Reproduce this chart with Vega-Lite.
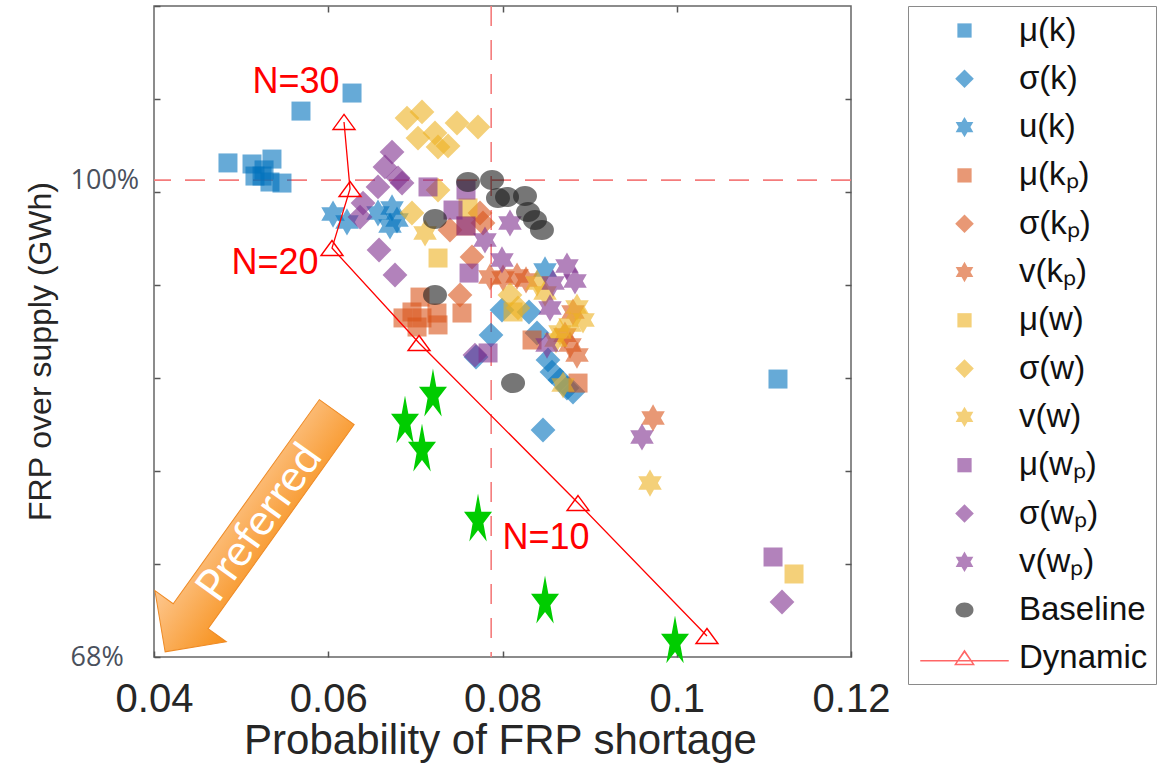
{
  "$schema": "https://vega.github.io/schema/vega-lite/v6.json",
  "width": 697,
  "height": 651,
  "autosize": {"type": "none"},
  "padding": {"left": 154, "top": 6, "right": 312, "bottom": 106},
  "background": "white",
  "config": {
    "view": {"stroke": "#666666", "strokeWidth": 1.5},
    "axis": {"grid": false, "domain": false, "tickColor": "#555555", "tickWidth": 1.5, "labelFont": "Liberation Sans", "titleFont": "Liberation Sans", "titleFontWeight": "normal"}
  },
  "datasets": {
    "pts": [
      {"s": "μ(k)", "x": 0.06273, "y": 105.84}, {"s": "μ(k)", "x": 0.05687, "y": 104.63}, {"s": "μ(k)", "x": 0.04849, "y": 101.15}, {"s": "μ(k)", "x": 0.05125, "y": 101.08}, {"s": "μ(k)", "x": 0.05354, "y": 101.41}, {"s": "μ(k)", "x": 0.05240, "y": 100.27}, {"s": "μ(k)", "x": 0.05331, "y": 99.87}, {"s": "μ(k)", "x": 0.05469, "y": 99.80}, {"s": "μ(k)", "x": 0.05263, "y": 100.68}, {"s": "μ(k)", "x": 0.05159, "y": 100.27}, {"s": "μ(k)", "x": 0.11162, "y": 86.65},
      {"s": "σ(k)", "x": 0.07994, "y": 91.28}, {"s": "σ(k)", "x": 0.08304, "y": 91.15}, {"s": "σ(k)", "x": 0.07868, "y": 89.60}, {"s": "σ(k)", "x": 0.07696, "y": 88.13}, {"s": "σ(k)", "x": 0.08522, "y": 87.93}, {"s": "σ(k)", "x": 0.08568, "y": 87.12}, {"s": "σ(k)", "x": 0.08660, "y": 86.59}, {"s": "σ(k)", "x": 0.08740, "y": 86.05}, {"s": "σ(k)", "x": 0.08465, "y": 83.23}, {"s": "σ(k)", "x": 0.08396, "y": 89.74}, {"s": "σ(k)", "x": 0.08809, "y": 85.78},
      {"s": "u(k)", "x": 0.06055, "y": 97.72}, {"s": "u(k)", "x": 0.06215, "y": 97.19}, {"s": "u(k)", "x": 0.06571, "y": 97.79}, {"s": "u(k)", "x": 0.06732, "y": 98.13}, {"s": "u(k)", "x": 0.06789, "y": 97.32}, {"s": "u(k)", "x": 0.06709, "y": 96.92}, {"s": "u(k)", "x": 0.08488, "y": 93.97},
      {"s": "μ(kₚ)", "x": 0.06858, "y": 90.75}, {"s": "μ(kₚ)", "x": 0.06961, "y": 91.15}, {"s": "μ(kₚ)", "x": 0.07053, "y": 92.15}, {"s": "μ(kₚ)", "x": 0.07076, "y": 90.75}, {"s": "μ(kₚ)", "x": 0.07248, "y": 91.08}, {"s": "μ(kₚ)", "x": 0.07260, "y": 90.28}, {"s": "μ(kₚ)", "x": 0.07019, "y": 90.14}, {"s": "μ(kₚ)", "x": 0.07535, "y": 91.08}, {"s": "μ(kₚ)", "x": 0.08339, "y": 89.27}, {"s": "μ(kₚ)", "x": 0.08867, "y": 86.38}, {"s": "μ(kₚ)", "x": 0.07581, "y": 96.92},
      {"s": "σ(kₚ)", "x": 0.07397, "y": 96.65}, {"s": "σ(kₚ)", "x": 0.07650, "y": 94.84}, {"s": "σ(kₚ)", "x": 0.07742, "y": 97.79}, {"s": "σ(kₚ)", "x": 0.07776, "y": 97.12}, {"s": "σ(kₚ)", "x": 0.07512, "y": 92.29},
      {"s": "v(kₚ)", "x": 0.07857, "y": 93.50}, {"s": "v(kₚ)", "x": 0.08006, "y": 93.43}, {"s": "v(kₚ)", "x": 0.08167, "y": 93.56}, {"s": "v(kₚ)", "x": 0.08270, "y": 93.30}, {"s": "v(kₚ)", "x": 0.08717, "y": 89.60}, {"s": "v(kₚ)", "x": 0.08809, "y": 91.15}, {"s": "v(kₚ)", "x": 0.08855, "y": 88.26}, {"s": "v(kₚ)", "x": 0.08775, "y": 88.93}, {"s": "v(kₚ)", "x": 0.09728, "y": 84.04},
      {"s": "μ(w)", "x": 0.07260, "y": 94.77}, {"s": "μ(w)", "x": 0.07604, "y": 98.13}, {"s": "μ(w)", "x": 0.08121, "y": 91.15}, {"s": "μ(w)", "x": 0.11346, "y": 73.57},
      {"s": "σ(w)", "x": 0.06904, "y": 104.16}, {"s": "σ(w)", "x": 0.07076, "y": 104.57}, {"s": "σ(w)", "x": 0.07030, "y": 102.82}, {"s": "σ(w)", "x": 0.07225, "y": 103.16}, {"s": "σ(w)", "x": 0.07260, "y": 102.22}, {"s": "σ(w)", "x": 0.07375, "y": 102.29}, {"s": "σ(w)", "x": 0.07478, "y": 103.83}, {"s": "σ(w)", "x": 0.07719, "y": 103.56}, {"s": "σ(w)", "x": 0.06961, "y": 97.79}, {"s": "σ(w)", "x": 0.07260, "y": 99.33}, {"s": "σ(w)", "x": 0.08086, "y": 92.29}, {"s": "σ(w)", "x": 0.08178, "y": 91.42},
      {"s": "v(w)", "x": 0.07111, "y": 96.45}, {"s": "v(w)", "x": 0.08396, "y": 93.09}, {"s": "v(w)", "x": 0.08488, "y": 92.42}, {"s": "v(w)", "x": 0.08855, "y": 91.48}, {"s": "v(w)", "x": 0.08924, "y": 90.61}, {"s": "v(w)", "x": 0.08660, "y": 89.81}, {"s": "v(w)", "x": 0.08614, "y": 89.27}, {"s": "v(w)", "x": 0.08695, "y": 86.25}, {"s": "v(w)", "x": 0.09693, "y": 79.67}, {"s": "v(w)", "x": 0.08775, "y": 90.28},
      {"s": "μ(wₚ)", "x": 0.07145, "y": 99.54}, {"s": "μ(wₚ)", "x": 0.07581, "y": 99.33}, {"s": "μ(wₚ)", "x": 0.07432, "y": 97.99}, {"s": "μ(wₚ)", "x": 0.07581, "y": 96.92}, {"s": "μ(wₚ)", "x": 0.07616, "y": 93.76}, {"s": "μ(wₚ)", "x": 0.07834, "y": 88.40}, {"s": "μ(wₚ)", "x": 0.11105, "y": 74.71},
      {"s": "σ(wₚ)", "x": 0.06732, "y": 101.88}, {"s": "σ(wₚ)", "x": 0.06651, "y": 100.88}, {"s": "σ(wₚ)", "x": 0.06801, "y": 100.14}, {"s": "σ(wₚ)", "x": 0.06571, "y": 99.54}, {"s": "σ(wₚ)", "x": 0.06847, "y": 99.80}, {"s": "σ(wₚ)", "x": 0.06399, "y": 98.46}, {"s": "σ(wₚ)", "x": 0.06365, "y": 97.52}, {"s": "σ(wₚ)", "x": 0.06583, "y": 95.31}, {"s": "σ(wₚ)", "x": 0.06766, "y": 93.63}, {"s": "σ(wₚ)", "x": 0.07684, "y": 88.26}, {"s": "σ(wₚ)", "x": 0.11208, "y": 71.69},
      {"s": "v(wₚ)", "x": 0.08086, "y": 97.12}, {"s": "v(wₚ)", "x": 0.07799, "y": 95.98}, {"s": "v(wₚ)", "x": 0.07994, "y": 94.64}, {"s": "v(wₚ)", "x": 0.08740, "y": 94.23}, {"s": "v(wₚ)", "x": 0.08832, "y": 93.23}, {"s": "v(wₚ)", "x": 0.08580, "y": 93.09}, {"s": "v(wₚ)", "x": 0.08545, "y": 91.42}, {"s": "v(wₚ)", "x": 0.08511, "y": 88.93}, {"s": "v(wₚ)", "x": 0.09601, "y": 82.76},
      {"s": "Baseline", "x": 0.07225, "y": 97.39}, {"s": "Baseline", "x": 0.07604, "y": 99.87}, {"s": "Baseline", "x": 0.07880, "y": 100.00}, {"s": "Baseline", "x": 0.07948, "y": 98.80}, {"s": "Baseline", "x": 0.08052, "y": 98.86}, {"s": "Baseline", "x": 0.08258, "y": 98.93}, {"s": "Baseline", "x": 0.08293, "y": 97.86}, {"s": "Baseline", "x": 0.08373, "y": 97.32}, {"s": "Baseline", "x": 0.08453, "y": 96.65}, {"s": "Baseline", "x": 0.07225, "y": 92.29}, {"s": "Baseline", "x": 0.08121, "y": 86.38}
    ],
    "stars": [
      {"x": 0.07202, "y": 85.58}, {"x": 0.06881, "y": 83.77}, {"x": 0.07076, "y": 81.89}, {"x": 0.07719, "y": 77.19}, {"x": 0.08488, "y": 71.69}, {"x": 0.09980, "y": 69.01}
    ],
    "dyn": [
      {"o": 1, "x": 0.06181, "y": 103.90}, {"o": 2, "x": 0.06250, "y": 99.40}, {"o": 3, "x": 0.06043, "y": 95.44}, {"o": 4, "x": 0.07042, "y": 89.07}, {"o": 5, "x": 0.08867, "y": 78.33}, {"o": 6, "x": 0.10347, "y": 69.41}
    ],
    "notes": [
      {"t": "N=30", "x": 0.05630, "y": 106.58}, {"t": "N=20", "x": 0.05389, "y": 94.44}, {"t": "N=10", "x": 0.08499, "y": 75.98}
    ],
    "arrow": [{"x": 0.05113, "y": 76.39, "t": "Preferred", "tx": 0.05217, "ty": 76.99}],
    "refs": [{"px": 0.0787, "py": 100}]
  },
  "resolve": {"axis": {"x": "independent", "y": "independent"}},
  "layer": [
    {
      "data": {"name": "refs"},
      "mark": {"type": "rule", "color": "#f47c7c", "strokeWidth": 1.6, "strokeDash": [20, 14]},
      "encoding": {
        "y": {"field": "py", "type": "quantitative", "scale": {"domain": [68, 111.68], "nice": false, "zero": false}, "axis": null}
      }
    },
    {
      "data": {"name": "refs"},
      "mark": {"type": "rule", "color": "#f47c7c", "strokeWidth": 1.6, "strokeDash": [20, 14]},
      "encoding": {
        "x": {"field": "px", "type": "quantitative", "scale": {"domain": [0.04, 0.12], "nice": false, "zero": false}, "axis": null}
      }
    },
    {
      "data": {"name": "arrow"},
      "mark": {
        "type": "point", "filled": true, "opacity": 1, "size": 90000, "angle": 125.6,
        "shape": "M-0.983,-0.143L0.691,-0.143L0.691,-0.293L0.983,0L0.691,0.293L0.691,0.143L-0.983,0.143Z",
        "fill": {"gradient": "linear", "x1": 0, "y1": 0, "x2": 0, "y2": 1, "stops": [{"offset": 0, "color": "#f7901a"}, {"offset": 1, "color": "#fdc891"}]},
        "stroke": "#ee8a25", "strokeWidth": 1
      },
      "encoding": {
        "x": {"field": "x", "type": "quantitative", "scale": {"domain": [0.04, 0.12], "nice": false, "zero": false}, "axis": null},
        "y": {"field": "y", "type": "quantitative", "scale": {"domain": [68, 111.68], "nice": false, "zero": false}, "axis": null}
      }
    },
    {
      "data": {"name": "arrow"},
      "mark": {"type": "text", "angle": -54.4, "color": "white", "font": "Lato", "fontSize": 44, "align": "center", "baseline": "middle"},
      "encoding": {
        "x": {"field": "tx", "type": "quantitative", "scale": {"domain": [0.04, 0.12], "nice": false, "zero": false}, "axis": null},
        "y": {"field": "ty", "type": "quantitative", "scale": {"domain": [68, 111.68], "nice": false, "zero": false}, "axis": null},
        "text": {"field": "t"}
      }
    },
    {
      "data": {"name": "pts"},
      "mark": {"type": "point", "filled": true, "opacity": 0.6, "size": 1600, "strokeWidth": 0},
      "encoding": {
        "x": {
          "field": "x", "type": "quantitative", "scale": {"domain": [0.04, 0.12], "nice": false, "zero": false},
          "axis": {"orient": "bottom", "values": [0.04, 0.06, 0.08, 0.1, 0.12], "format": ".2~f", "labelFontSize": 40, "labelColor": "#262626", "labelPadding": 28, "tickSize": -6, "labelFlush": false, "labelOverlap": false, "title": "Probability of FRP shortage", "titleFontSize": 42, "titleColor": "#262626", "titleX": 346, "titleY": 96, "titleBaseline": "alphabetic", "titleAlign": "center"}
        },
        "y": {
          "field": "y", "type": "quantitative", "scale": {"domain": [68, 111.68], "nice": false, "zero": false},
          "axis": {"orient": "left", "values": [68, 74.24, 80.48, 86.72, 92.96, 99.2, 100, 105.44, 111.68], "labelExpr": "datum.value == 100 ? '100%' : (datum.value == 68 ? '68%' : '')", "labelAlign": "left", "labelBaseline": "middle", "labelPadding": 90, "tickSize": -6, "tickOpacity": {"condition": {"test": "datum.value == 100", "value": 0}, "value": 1}, "labelFont": "Open Sans", "labelFontSize": 27, "labelColor": "#4a505c", "labelOverlap": false, "labelFlush": false, "title": "FRP over supply (GWh)", "titleFontSize": 32, "titleColor": "#262626", "titleAngle": -90, "titleX": -104, "titleY": 345, "titleAlign": "center", "titleBaseline": "alphabetic"}
        },
        "color": {
          "field": "s", "type": "nominal",
          "scale": {
            "domain": ["μ(k)", "σ(k)", "u(k)", "μ(kₚ)", "σ(kₚ)", "v(kₚ)", "μ(w)", "σ(w)", "v(w)", "μ(wₚ)", "σ(wₚ)", "v(wₚ)", "Baseline", "Dynamic"],
            "range": ["#0072BD", "#0072BD", "#0072BD", "#D95319", "#D95319", "#D95319", "#EDB120", "#EDB120", "#EDB120", "#7E2F8E", "#7E2F8E", "#7E2F8E", "#1a1a1a", "#ff0000"]
          },
          "legend": {"title": null, "orient": "none", "legendX": 754, "legendY": 0, "padding": 8, "strokeColor": "#8a8a8a", "symbolSize": 900, "symbolOffset": 32, "labelOffset": 38, "labelFont": "Liberation Sans", "labelFontSize": 33, "labelColor": "#111111", "labelLimit": 0, "rowPadding": 14.3, "symbolStrokeWidth": 0}
        },
        "shape": {
          "field": "s", "type": "nominal",
          "scale": {
            "domain": ["μ(k)", "σ(k)", "u(k)", "μ(kₚ)", "σ(kₚ)", "v(kₚ)", "μ(w)", "σ(w)", "v(w)", "μ(wₚ)", "σ(wₚ)", "v(wₚ)", "Baseline", "Dynamic"],
            "range": [
              "M-0.475,-0.475H0.475V0.475H-0.475Z",
              "M0,-0.62L0.62,0L0,0.62L-0.62,0Z",
              "M0,-0.68L0.196,-0.34L0.589,-0.34L0.393,0L0.589,0.34L0.196,0.34L0,0.68L-0.196,0.34L-0.589,0.34L-0.393,0L-0.589,-0.34L-0.196,-0.34Z",
              "M-0.475,-0.475H0.475V0.475H-0.475Z",
              "M0,-0.62L0.62,0L0,0.62L-0.62,0Z",
              "M0,-0.68L0.196,-0.34L0.589,-0.34L0.393,0L0.589,0.34L0.196,0.34L0,0.68L-0.196,0.34L-0.589,0.34L-0.393,0L-0.589,-0.34L-0.196,-0.34Z",
              "M-0.475,-0.475H0.475V0.475H-0.475Z",
              "M0,-0.62L0.62,0L0,0.62L-0.62,0Z",
              "M0,-0.68L0.196,-0.34L0.589,-0.34L0.393,0L0.589,0.34L0.196,0.34L0,0.68L-0.196,0.34L-0.589,0.34L-0.393,0L-0.589,-0.34L-0.196,-0.34Z",
              "M-0.475,-0.475H0.475V0.475H-0.475Z",
              "M0,-0.62L0.62,0L0,0.62L-0.62,0Z",
              "M0,-0.68L0.196,-0.34L0.589,-0.34L0.393,0L0.589,0.34L0.196,0.34L0,0.68L-0.196,0.34L-0.589,0.34L-0.393,0L-0.589,-0.34L-0.196,-0.34Z",
              "M-0.6,0A0.6,0.5,0,1,0,0.6,0A0.6,0.5,0,1,0,-0.6,0Z",
              "M0,-0.6L0.7,0.45L-0.7,0.45ZM0,-0.38L-0.52,0.35L0.52,0.35ZM-2.95,0.11H2.95V0.2H-2.95Z"
            ]
          }
        }
      }
    },
    {
      "data": {"name": "stars"},
      "mark": {"type": "point", "filled": true, "opacity": 1, "size": 2800, "strokeWidth": 0, "color": "#00cc00",
        "shape": "M0,-1L0.126,-0.309L0.53,-0.309L0.203,0.118L0.33,0.809L0,0.382L-0.33,0.809L-0.203,0.118L-0.53,-0.309L-0.126,-0.309Z"},
      "encoding": {
        "x": {"field": "x", "type": "quantitative", "scale": {"domain": [0.04, 0.12], "nice": false, "zero": false},
          "axis": {"orient": "top", "values": [0.06, 0.08, 0.1], "labels": false, "tickSize": -6, "title": null}},
        "y": {"field": "y", "type": "quantitative", "scale": {"domain": [68, 111.68], "nice": false, "zero": false},
          "axis": {"orient": "right", "values": [74.24, 80.48, 86.72, 92.96, 99.2, 105.44], "labels": false, "tickSize": -6, "title": null}}
      }
    },
    {
      "data": {"name": "dyn"},
      "mark": {"type": "line", "color": "#ff0000", "strokeWidth": 1.3},
      "encoding": {
        "x": {"field": "x", "type": "quantitative", "scale": {"domain": [0.04, 0.12], "nice": false, "zero": false}, "axis": null},
        "y": {"field": "y", "type": "quantitative", "scale": {"domain": [68, 111.68], "nice": false, "zero": false}, "axis": null},
        "order": {"field": "o", "type": "quantitative"}
      }
    },
    {
      "data": {"name": "dyn"},
      "mark": {"type": "point", "filled": false, "color": "#ff0000", "strokeWidth": 1.4, "opacity": 1, "size": 400, "shape": "M0,-0.75L1.1,0.75L-1.1,0.75Z"},
      "encoding": {
        "x": {"field": "x", "type": "quantitative", "scale": {"domain": [0.04, 0.12], "nice": false, "zero": false}, "axis": null},
        "y": {"field": "y", "type": "quantitative", "scale": {"domain": [68, 111.68], "nice": false, "zero": false}, "axis": null}
      }
    },
    {
      "data": {"name": "notes"},
      "mark": {"type": "text", "color": "#ff0000", "font": "Liberation Sans", "fontSize": 36, "align": "center", "baseline": "middle"},
      "encoding": {
        "x": {"field": "x", "type": "quantitative", "scale": {"domain": [0.04, 0.12], "nice": false, "zero": false}, "axis": null},
        "y": {"field": "y", "type": "quantitative", "scale": {"domain": [68, 111.68], "nice": false, "zero": false}, "axis": null},
        "text": {"field": "t"}
      }
    }
  ]
}
